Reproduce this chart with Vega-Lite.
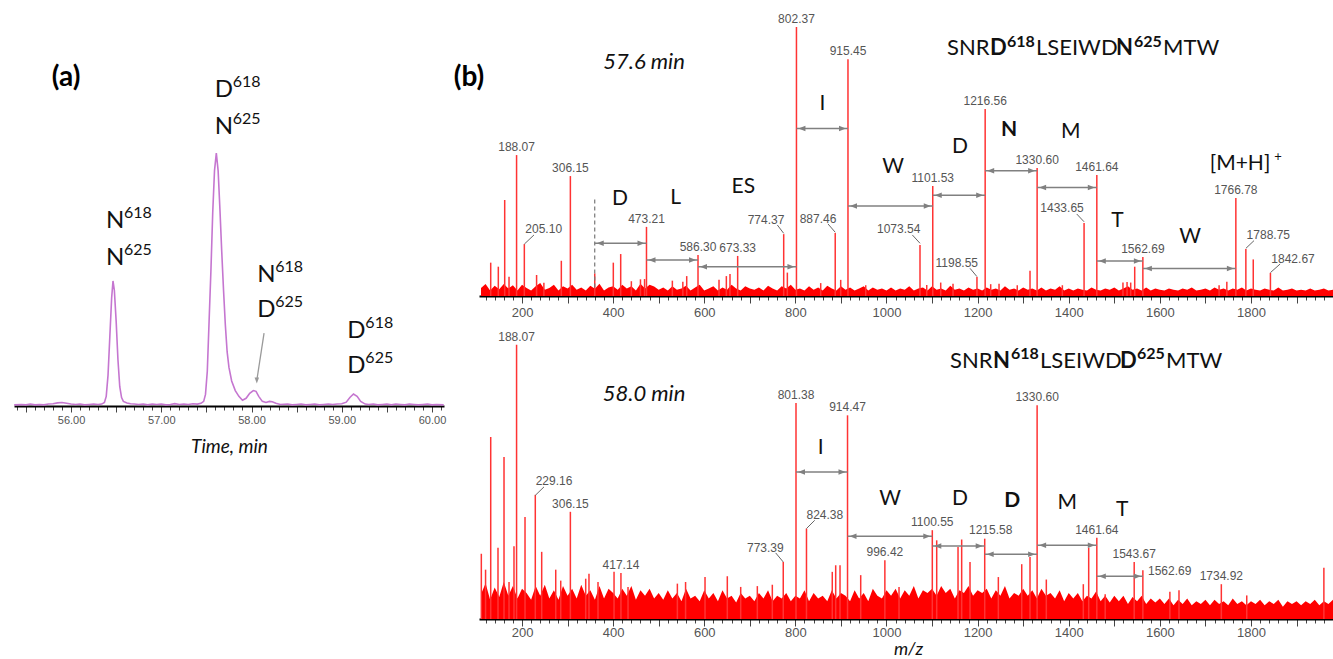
{
"$schema": "https://vega.github.io/schema/vega-lite/v6.json",
"background": "white",
"padding": {"left": 10, "top": 5, "right": 0, "bottom": 0},
"bounds": "flush",
"spacing": 35,
"config": {"view": {"stroke": null}, "font": "Lato", "axis": {"grid": false, "domainColor": "#000", "domainWidth": 2, "tickColor": "#444", "labelColor": "#555", "labelFont": "Liberation Sans"}},
"datasets": {
"chrom": [{"t":55.37,"i":0.3},{"t":55.45,"i":0.4},{"t":55.5,"i":0.3},{"t":55.55,"i":0.5},{"t":55.6,"i":0.3},{"t":55.65,"i":0.4},{"t":55.7,"i":0.3},{"t":55.75,"i":0.5},{"t":55.8,"i":0.6},{"t":55.85,"i":0.8},{"t":55.9,"i":0.9},{"t":55.95,"i":0.7},{"t":56.0,"i":0.5},{"t":56.05,"i":0.4},{"t":56.1,"i":0.5},{"t":56.15,"i":0.3},{"t":56.2,"i":0.4},{"t":56.25,"i":0.5},{"t":56.3,"i":0.4},{"t":56.34,"i":0.5},{"t":56.37,"i":0.9},{"t":56.39,"i":2.5},{"t":56.41,"i":8},{"t":56.43,"i":18},{"t":56.45,"i":28},{"t":56.465,"i":32.4},{"t":56.48,"i":30},{"t":56.5,"i":22},{"t":56.52,"i":12},{"t":56.54,"i":5},{"t":56.56,"i":2.2},{"t":56.58,"i":1.2},{"t":56.62,"i":0.8},{"t":56.66,"i":0.6},{"t":56.7,"i":0.5},{"t":56.75,"i":0.4},{"t":56.8,"i":0.5},{"t":56.85,"i":0.3},{"t":56.9,"i":0.5},{"t":56.95,"i":0.4},{"t":57.0,"i":0.5},{"t":57.05,"i":0.3},{"t":57.1,"i":0.4},{"t":57.15,"i":0.6},{"t":57.2,"i":0.4},{"t":57.25,"i":0.5},{"t":57.3,"i":0.4},{"t":57.35,"i":0.6},{"t":57.4,"i":0.5},{"t":57.44,"i":0.7},{"t":57.47,"i":1.2},{"t":57.49,"i":3},{"t":57.51,"i":9},{"t":57.53,"i":22},{"t":57.55,"i":35},{"t":57.57,"i":50},{"t":57.59,"i":61},{"t":57.61,"i":65.5},{"t":57.63,"i":61},{"t":57.65,"i":51},{"t":57.67,"i":40},{"t":57.69,"i":30},{"t":57.71,"i":21},{"t":57.73,"i":14},{"t":57.75,"i":10},{"t":57.78,"i":6.5},{"t":57.82,"i":4},{"t":57.86,"i":2.5},{"t":57.9,"i":1.5},{"t":57.94,"i":2},{"t":57.98,"i":3.3},{"t":58.02,"i":4},{"t":58.05,"i":3.8},{"t":58.08,"i":2.5},{"t":58.12,"i":1.2},{"t":58.16,"i":0.9},{"t":58.2,"i":1.2},{"t":58.23,"i":1.1},{"t":58.27,"i":0.7},{"t":58.32,"i":0.4},{"t":58.4,"i":0.5},{"t":58.45,"i":0.3},{"t":58.5,"i":0.4},{"t":58.55,"i":0.5},{"t":58.6,"i":0.3},{"t":58.65,"i":0.4},{"t":58.7,"i":0.5},{"t":58.75,"i":0.3},{"t":58.8,"i":0.4},{"t":58.85,"i":0.5},{"t":58.9,"i":0.4},{"t":58.95,"i":0.5},{"t":59.0,"i":0.6},{"t":59.05,"i":1.0},{"t":59.09,"i":2.2},{"t":59.13,"i":3.1},{"t":59.17,"i":2.5},{"t":59.21,"i":1.2},{"t":59.26,"i":0.5},{"t":59.3,"i":0.4},{"t":59.35,"i":0.5},{"t":59.4,"i":0.3},{"t":59.45,"i":0.4},{"t":59.5,"i":0.5},{"t":59.55,"i":0.3},{"t":59.6,"i":0.5},{"t":59.65,"i":0.4},{"t":59.7,"i":0.3},{"t":59.75,"i":0.5},{"t":59.8,"i":0.4},{"t":59.85,"i":0.3},{"t":59.9,"i":0.4},{"t":59.95,"i":0.5},{"t":60.0,"i":0.3},{"t":60.05,"i":0.4},{"t":60.13,"i":0.3}],
"isoLab": [{"t":56.388,"i":46.1,"b":"N","s":"618"},{"t":56.388,"i":36.5,"b":"N","s":"625"},{"t":57.592,"i":80.1,"b":"D","s":"618"},{"t":57.592,"i":70.6,"b":"N","s":"625"},{"t":58.064,"i":32.2,"b":"N","s":"618"},{"t":58.064,"i":23.1,"b":"D","s":"625"},{"t":59.062,"i":17.7,"b":"D","s":"618"},{"t":59.062,"i":8.5,"b":"D","s":"625"}],
"noiseTop": [{"m":110,"i":3},{"m":120,"i":4.5},{"m":130,"i":2},{"m":140,"i":3.8},{"m":150,"i":2.5},{"m":160,"i":4.5},{"m":170,"i":2.8},{"m":180,"i":4},{"m":190,"i":2},{"m":200,"i":4.2},{"m":210,"i":3},{"m":220,"i":2},{"m":230,"i":3.6},{"m":240,"i":4.8},{"m":250,"i":2.3},{"m":260,"i":3},{"m":270,"i":4.2},{"m":280,"i":2},{"m":290,"i":3.6},{"m":300,"i":2.8},{"m":310,"i":4.2},{"m":320,"i":2.3},{"m":330,"i":3.2},{"m":340,"i":2},{"m":350,"i":3.8},{"m":360,"i":2.7},{"m":370,"i":4.6},{"m":380,"i":2},{"m":390,"i":3.2},{"m":400,"i":3.6},{"m":410,"i":2.3},{"m":420,"i":4.2},{"m":430,"i":2.8},{"m":440,"i":3.6},{"m":450,"i":2},{"m":460,"i":4.6},{"m":470,"i":2.8},{"m":480,"i":4.2},{"m":490,"i":3.5},{"m":500,"i":2.3},{"m":510,"i":3.2},{"m":520,"i":2},{"m":530,"i":3.6},{"m":540,"i":2.3},{"m":550,"i":2.8},{"m":560,"i":3.8},{"m":570,"i":2},{"m":580,"i":3.2},{"m":590,"i":4.2},{"m":600,"i":2},{"m":610,"i":2.8},{"m":620,"i":3.6},{"m":630,"i":2},{"m":640,"i":3.2},{"m":650,"i":2.3},{"m":660,"i":4.2},{"m":670,"i":2.8},{"m":680,"i":2},{"m":690,"i":3.6},{"m":700,"i":2.8},{"m":710,"i":2.3},{"m":720,"i":3.2},{"m":730,"i":2},{"m":740,"i":3.8},{"m":750,"i":2.8},{"m":760,"i":2},{"m":770,"i":3.6},{"m":780,"i":2.8},{"m":790,"i":4.2},{"m":800,"i":2.3},{"m":810,"i":2.8},{"m":820,"i":2},{"m":830,"i":3.6},{"m":840,"i":2.3},{"m":850,"i":3.2},{"m":860,"i":2},{"m":870,"i":3.8},{"m":880,"i":2.8},{"m":890,"i":2},{"m":900,"i":3.6},{"m":910,"i":2.3},{"m":920,"i":3.2},{"m":930,"i":2},{"m":940,"i":2.8},{"m":950,"i":3.6},{"m":960,"i":2},{"m":970,"i":3.2},{"m":980,"i":2.3},{"m":990,"i":2.8},{"m":1000,"i":2},{"m":1010,"i":3.2},{"m":1020,"i":2},{"m":1030,"i":2.8},{"m":1040,"i":2.3},{"m":1050,"i":3.6},{"m":1060,"i":2},{"m":1070,"i":2.8},{"m":1080,"i":3.2},{"m":1090,"i":2},{"m":1100,"i":3.6},{"m":1110,"i":2.3},{"m":1120,"i":2.8},{"m":1130,"i":2},{"m":1140,"i":3.8},{"m":1150,"i":2.3},{"m":1160,"i":2.8},{"m":1170,"i":2},{"m":1180,"i":3.2},{"m":1190,"i":2.3},{"m":1200,"i":2.8},{"m":1210,"i":2},{"m":1220,"i":3.2},{"m":1230,"i":2.3},{"m":1240,"i":2.8},{"m":1250,"i":2},{"m":1260,"i":3.6},{"m":1270,"i":2.3},{"m":1280,"i":2.8},{"m":1290,"i":2},{"m":1300,"i":3.2},{"m":1310,"i":2.3},{"m":1320,"i":2.8},{"m":1330,"i":2},{"m":1340,"i":3.2},{"m":1350,"i":2},{"m":1360,"i":2.8},{"m":1370,"i":2.3},{"m":1380,"i":3.6},{"m":1390,"i":2},{"m":1400,"i":2.8},{"m":1410,"i":2},{"m":1420,"i":2.8},{"m":1430,"i":2.3},{"m":1440,"i":2},{"m":1450,"i":3.2},{"m":1460,"i":2.3},{"m":1470,"i":2},{"m":1480,"i":2.8},{"m":1490,"i":2.3},{"m":1500,"i":3.2},{"m":1510,"i":2},{"m":1520,"i":2.8},{"m":1530,"i":3.6},{"m":1540,"i":2.3},{"m":1550,"i":2.8},{"m":1560,"i":2},{"m":1570,"i":3.2},{"m":1580,"i":2},{"m":1590,"i":2.8},{"m":1600,"i":2.3},{"m":1610,"i":2},{"m":1620,"i":2.8},{"m":1630,"i":2.3},{"m":1640,"i":2},{"m":1650,"i":2.8},{"m":1660,"i":2.3},{"m":1670,"i":3.2},{"m":1680,"i":2},{"m":1690,"i":2.3},{"m":1700,"i":2.8},{"m":1710,"i":2},{"m":1720,"i":3.2},{"m":1730,"i":2.3},{"m":1740,"i":2.8},{"m":1750,"i":2},{"m":1760,"i":2.8},{"m":1770,"i":2.3},{"m":1780,"i":3.2},{"m":1790,"i":2},{"m":1800,"i":2.8},{"m":1810,"i":2.3},{"m":1820,"i":2},{"m":1830,"i":2.8},{"m":1840,"i":2.3},{"m":1850,"i":2},{"m":1860,"i":3.2},{"m":1870,"i":2},{"m":1880,"i":2.3},{"m":1890,"i":2.8},{"m":1900,"i":2},{"m":1910,"i":2.3},{"m":1920,"i":2},{"m":1930,"i":2.8},{"m":1940,"i":2},{"m":1950,"i":2.3},{"m":1960,"i":2.8},{"m":1970,"i":2},{"m":1980,"i":2.3},{"m":1988,"i":2}],
"peaksTop": [{"m":131.3,"i":12.4},{"m":148,"i":10.9},{"m":162,"i":35.7},{"m":171.5,"i":7.2},{"m":188.07,"i":52.4,"lab":"188.07"},{"m":205.1,"i":19.3},{"m":232,"i":7.8},{"m":248,"i":4.9},{"m":286.3,"i":13.1},{"m":306.15,"i":44.6,"lab":"306.15"},{"m":359.6,"i":8.4},{"m":400.4,"i":12.4},{"m":416.6,"i":15.6},{"m":440,"i":5.5},{"m":460,"i":6.2},{"m":469,"i":6.3},{"m":473.21,"i":25.7,"lab":"473.21"},{"m":530,"i":5.7},{"m":553,"i":5.3},{"m":561.5,"i":7.4},{"m":586.3,"i":15.2,"lab":"586.30"},{"m":632.4,"i":6},{"m":648.5,"i":7.4},{"m":656.5,"i":8.2},{"m":673.33,"i":14.9,"lab":"673.33"},{"m":774.37,"i":23.0},{"m":782.4,"i":8.7},{"m":802.37,"i":100,"lab":"802.37"},{"m":855.6,"i":4.8},{"m":887.46,"i":23.4},{"m":899.5,"i":6},{"m":915.45,"i":88,"lab":"915.45"},{"m":954.4,"i":4},{"m":1073.54,"i":19},{"m":1088.3,"i":4.1},{"m":1101.53,"i":40.9,"lab":"1101.53"},{"m":1119,"i":5},{"m":1146,"i":4.6},{"m":1198.55,"i":7.1},{"m":1216.56,"i":69.5,"lab":"1216.56"},{"m":1228.7,"i":4.4},{"m":1247,"i":4.6},{"m":1287,"i":4},{"m":1315,"i":9.4},{"m":1330.6,"i":47.6,"lab":"1330.60"},{"m":1386,"i":4},{"m":1433.65,"i":27.1},{"m":1461.64,"i":45,"lab":"1461.64"},{"m":1519,"i":5},{"m":1528,"i":5.2},{"m":1536,"i":5},{"m":1544.8,"i":10.9},{"m":1562.69,"i":14.5,"lab":"1562.69"},{"m":1730,"i":4},{"m":1747,"i":5.3},{"m":1766.78,"i":36.4,"lab":"1766.78"},{"m":1788.75,"i":17.5},{"m":1805,"i":13.6},{"m":1842.67,"i":8.6}],
"labTop": [{"m":247.6,"i":23.4,"lab":"205.10"},{"m":735.6,"i":26.8,"lab":"774.37"},{"m":849.7,"i":27.2,"lab":"887.46"},{"m":1026.8,"i":23.4,"lab":"1073.54"},{"m":1154.3,"i":10.9,"lab":"1198.55"},{"m":1385.3,"i":31.3,"lab":"1433.65"},{"m":1838,"i":21.1,"lab":"1788.75"},{"m":1892.3,"i":12.2,"lab":"1842.67"}],
"leadTop": [{"m":226.3,"i":22.7,"m2":205.1,"i2":19.3},{"m":760.4,"i":26.4,"m2":774.37,"i2":23.3},{"m":871.6,"i":26.8,"m2":887.46,"i2":23.7},{"m":1056.7,"i":22.7,"m2":1073.54,"i2":19.6},{"m":1183.3,"i":10.3,"m2":1198.55,"i2":7.2},{"m":1417.5,"i":30.5,"m2":1433.65,"i2":27.6},{"m":1806.7,"i":20.6,"m2":1788.75,"i2":17.7},{"m":1864,"i":11.9,"m2":1842.67,"i2":8.7}],
"arrTop": [{"m":359.6,"m2":473.21,"i":19.6},{"m":473.21,"m2":586.3,"i":13.4},{"m":586.3,"m2":802.37,"i":10.9},{"m":802.37,"m2":915.45,"i":62.3},{"m":915.45,"m2":1101.53,"i":33.5},{"m":1101.53,"m2":1216.56,"i":37.5},{"m":1216.56,"m2":1330.6,"i":46.6},{"m":1330.6,"m2":1461.64,"i":40.3},{"m":1461.64,"m2":1562.69,"i":13},{"m":1562.69,"m2":1766.78,"i":10.2}],
"dashTop": [{"m":359.6,"i":35.9,"i2":2}],
"aaTop": [{"m":415.1,"i":35.9,"txt":"D"},{"m":537.3,"i":36.5,"txt":"L"},{"m":685.8,"i":40.4,"txt":"ES"},{"m":859.2,"i":71.4,"txt":"I"},{"m":1014.7,"i":48.1,"txt":"W"},{"m":1161.4,"i":55.5,"txt":"D"},{"m":1268.9,"i":61.7,"txt":"N","b":1},{"m":1404.3,"i":61.1,"txt":"M"},{"m":1506.7,"i":28,"txt":"T"},{"m":1666.2,"i":21.8,"txt":"W"},{"m":1776,"i":49.1,"txt":"[M+H]"}],
"titleTop": [{"m":1132.8,"i":89.6,"txt":"SNR","p":"n"},{"m":1227.2,"i":89.6,"txt":"D","p":"b"},{"m":1264.5,"i":92.7,"txt":"618","p":"s"},{"m":1328.2,"i":89.6,"txt":"LSEIWD","p":"n"},{"m":1503.8,"i":89.6,"txt":"N","p":"b"},{"m":1543.3,"i":92.7,"txt":"625","p":"s"},{"m":1607,"i":89.6,"txt":"MTW","p":"n"}],
"noiseBot": [{"m":110,"i":9},{"m":120,"i":13},{"m":130,"i":7},{"m":140,"i":11.5},{"m":150,"i":8},{"m":160,"i":13.5},{"m":170,"i":8.5},{"m":180,"i":12},{"m":190,"i":7.5},{"m":200,"i":11},{"m":210,"i":9.5},{"m":220,"i":7},{"m":230,"i":12},{"m":240,"i":8.5},{"m":250,"i":12.5},{"m":260,"i":7.5},{"m":270,"i":10.5},{"m":280,"i":7},{"m":290,"i":12},{"m":300,"i":8.5},{"m":310,"i":11},{"m":320,"i":7.5},{"m":330,"i":12.5},{"m":340,"i":8.5},{"m":350,"i":10.5},{"m":360,"i":7},{"m":370,"i":12},{"m":380,"i":7.5},{"m":390,"i":11},{"m":400,"i":9.5},{"m":410,"i":7.5},{"m":420,"i":11},{"m":430,"i":8.5},{"m":440,"i":12},{"m":450,"i":7},{"m":460,"i":10.5},{"m":470,"i":8.5},{"m":480,"i":11},{"m":490,"i":7.5},{"m":500,"i":9.5},{"m":510,"i":7},{"m":520,"i":10.5},{"m":530,"i":7.5},{"m":540,"i":9.5},{"m":550,"i":6.5},{"m":560,"i":11},{"m":570,"i":7.5},{"m":580,"i":8.5},{"m":590,"i":6.5},{"m":600,"i":10.5},{"m":610,"i":7.5},{"m":620,"i":9.5},{"m":630,"i":6.5},{"m":640,"i":10.5},{"m":650,"i":7.5},{"m":660,"i":8.5},{"m":670,"i":6},{"m":680,"i":9.5},{"m":690,"i":7.5},{"m":700,"i":8.5},{"m":710,"i":6.5},{"m":720,"i":9.5},{"m":730,"i":7.5},{"m":740,"i":10.5},{"m":750,"i":6.5},{"m":760,"i":8.5},{"m":770,"i":7.5},{"m":780,"i":9.5},{"m":790,"i":6.5},{"m":800,"i":8.5},{"m":810,"i":7.5},{"m":820,"i":10.5},{"m":830,"i":6.5},{"m":840,"i":9.5},{"m":850,"i":7.5},{"m":860,"i":8.5},{"m":870,"i":6.5},{"m":880,"i":10.5},{"m":890,"i":7.5},{"m":900,"i":9.5},{"m":910,"i":8.5},{"m":920,"i":6.5},{"m":930,"i":10.5},{"m":940,"i":7.5},{"m":950,"i":9.5},{"m":960,"i":6.5},{"m":970,"i":11},{"m":980,"i":8.5},{"m":990,"i":7.5},{"m":1000,"i":10.5},{"m":1010,"i":8.5},{"m":1020,"i":11},{"m":1030,"i":7.5},{"m":1040,"i":10.5},{"m":1050,"i":8.5},{"m":1060,"i":12},{"m":1070,"i":7.5},{"m":1080,"i":10.5},{"m":1090,"i":9.5},{"m":1100,"i":11},{"m":1110,"i":8.5},{"m":1120,"i":12},{"m":1130,"i":9.5},{"m":1140,"i":11},{"m":1150,"i":7.5},{"m":1160,"i":10.5},{"m":1170,"i":9.5},{"m":1180,"i":12},{"m":1190,"i":8.5},{"m":1200,"i":10.5},{"m":1210,"i":9.5},{"m":1220,"i":11},{"m":1230,"i":7.5},{"m":1240,"i":10.5},{"m":1250,"i":8.5},{"m":1260,"i":12},{"m":1270,"i":7.5},{"m":1280,"i":9.5},{"m":1290,"i":8.5},{"m":1300,"i":11},{"m":1310,"i":8.5},{"m":1320,"i":10.5},{"m":1330,"i":7.5},{"m":1340,"i":11},{"m":1350,"i":8.5},{"m":1360,"i":9.5},{"m":1370,"i":7.5},{"m":1380,"i":10.5},{"m":1390,"i":6.5},{"m":1400,"i":9.5},{"m":1410,"i":7.5},{"m":1420,"i":9.5},{"m":1430,"i":6.5},{"m":1440,"i":8.5},{"m":1450,"i":7.5},{"m":1460,"i":10},{"m":1470,"i":6.5},{"m":1480,"i":8.5},{"m":1490,"i":6},{"m":1500,"i":8.5},{"m":1510,"i":6.5},{"m":1520,"i":8.5},{"m":1530,"i":5.5},{"m":1540,"i":8},{"m":1550,"i":6.5},{"m":1560,"i":8.5},{"m":1570,"i":5.5},{"m":1580,"i":7.5},{"m":1590,"i":6},{"m":1600,"i":7.5},{"m":1610,"i":5.5},{"m":1620,"i":7.5},{"m":1630,"i":5},{"m":1640,"i":7},{"m":1650,"i":5.5},{"m":1660,"i":7.5},{"m":1670,"i":5},{"m":1680,"i":6.5},{"m":1690,"i":5.5},{"m":1700,"i":7},{"m":1710,"i":5},{"m":1720,"i":7},{"m":1730,"i":5.5},{"m":1740,"i":6.5},{"m":1750,"i":5},{"m":1760,"i":7.5},{"m":1770,"i":5.5},{"m":1780,"i":6.5},{"m":1790,"i":5},{"m":1800,"i":6.5},{"m":1810,"i":5.5},{"m":1820,"i":7},{"m":1830,"i":5},{"m":1840,"i":6.5},{"m":1850,"i":5.5},{"m":1860,"i":7},{"m":1870,"i":4.5},{"m":1880,"i":6.5},{"m":1890,"i":5.5},{"m":1900,"i":6.5},{"m":1910,"i":5},{"m":1920,"i":6.5},{"m":1930,"i":5.5},{"m":1940,"i":7},{"m":1950,"i":5},{"m":1960,"i":6.5},{"m":1970,"i":5.5},{"m":1980,"i":7},{"m":1988,"i":5.5}],
"peaksBot": [{"m":110.7,"i":23.8},{"m":120,"i":18},{"m":131.3,"i":66.4},{"m":147.3,"i":26},{"m":160.5,"i":59.1},{"m":171.5,"i":13.5},{"m":182.4,"i":26.5},{"m":188.07,"i":100,"lab":"188.07"},{"m":206.6,"i":37.2},{"m":229.16,"i":45.3},{"m":243.2,"i":24.5},{"m":274,"i":18},{"m":285,"i":14},{"m":306.15,"i":39.1,"lab":"306.15"},{"m":339.8,"i":14.7},{"m":347,"i":16.5},{"m":366.8,"i":13.5},{"m":402,"i":17.2},{"m":417.14,"i":16.8,"lab":"417.14"},{"m":432.7,"i":11.7},{"m":541,"i":12.9},{"m":559,"i":13.5},{"m":601.7,"i":15.3},{"m":650.6,"i":15.6},{"m":680,"i":11.7},{"m":716.5,"i":12},{"m":749.4,"i":12.5},{"m":773.39,"i":20.8},{"m":801.38,"i":78.8,"lab":"801.38"},{"m":824.38,"i":33},{"m":881,"i":17.2},{"m":888.5,"i":19.6},{"m":898,"i":19.6},{"m":914.47,"i":74.3,"lab":"914.47"},{"m":943.4,"i":16},{"m":996.42,"i":21.4,"lab":"996.42"},{"m":1027.5,"i":11.7},{"m":1100.55,"i":32.4,"lab":"1100.55"},{"m":1110.2,"i":28.7},{"m":1157,"i":26.3},{"m":1165,"i":29},{"m":1183.3,"i":20.8},{"m":1215.58,"i":29.3},{"m":1245.5,"i":15.3},{"m":1296.8,"i":20},{"m":1315,"i":22.6},{"m":1330.6,"i":78,"lab":"1330.60"},{"m":1350.8,"i":14.4},{"m":1432,"i":12.7},{"m":1443.8,"i":26},{"m":1461.64,"i":29.6,"lab":"1461.64"},{"m":1480,"i":9},{"m":1543.67,"i":20.8,"lab":"1543.67"},{"m":1562.69,"i":17.8},{"m":1622,"i":9.9},{"m":1642,"i":10.5},{"m":1734.92,"i":12.7,"lab":"1734.92"},{"m":1790.7,"i":8.6},{"m":1960,"i":18.7}],
"labBot": [{"m":270.2,"i":48.8,"lab":"229.16"},{"m":734,"i":24.5,"lab":"773.39"},{"m":864.7,"i":36.6,"lab":"824.38"},{"m":1228.7,"i":31.1,"lab":"1215.58"},{"m":1621.5,"i":15.9,"lab":"1562.69"}],
"leadBot": [{"m":248.3,"i":48.2,"m2":229.16,"i2":45.1},{"m":756.8,"i":24.1,"m2":773.39,"i2":20.8},{"m":842.4,"i":36,"m2":824.38,"i2":33}],
"arrBot": [{"m":801.38,"m2":914.47,"i":53.6},{"m":914.47,"m2":1100.55,"i":30.2},{"m":1100.55,"m2":1215.58,"i":26.6},{"m":1215.58,"m2":1330.6,"i":23.6},{"m":1330.6,"m2":1461.64,"i":26.9},{"m":1461.64,"m2":1562.69,"i":15.6}],
"aaBot": [{"m":855.6,"i":62.5,"txt":"I"},{"m":1007.7,"i":43.9,"txt":"W"},{"m":1161.4,"i":43.9,"txt":"D"},{"m":1276.2,"i":43.1,"txt":"D","b":1},{"m":1396.9,"i":42.3,"txt":"M"},{"m":1517.6,"i":39.9,"txt":"T"}],
"titleBot": [{"m":1139.4,"i":91.7,"txt":"SNR","p":"n"},{"m":1233.8,"i":91.7,"txt":"N","p":"b"},{"m":1273.3,"i":95,"txt":"618","p":"s"},{"m":1337,"i":91.7,"txt":"LSEIWD","p":"n"},{"m":1512.6,"i":91.7,"txt":"D","p":"b"},{"m":1549.9,"i":95,"txt":"625","p":"s"},{"m":1613.5,"i":91.7,"txt":"MTW","p":"n"}]
},
"hconcat": [
{
"width": 430, "height": 401,
"encoding": {
"x": {"field": "t", "type": "quantitative", "title": "Time, min", "scale": {"domain": [55.368, 60.133], "nice": false, "zero": false},
 "axis": {"values": [55.4,55.5,55.6,55.7,55.8,55.9,56,56.1,56.2,56.3,56.4,56.5,56.6,56.7,56.8,56.9,57,57.1,57.2,57.3,57.4,57.5,57.6,57.7,57.8,57.9,58,58.1,58.2,58.3,58.4,58.5,58.6,58.7,58.8,58.9,59,59.1,59.2,59.3,59.4,59.5,59.6,59.7,59.8,59.9,60,60.1],
  "format": ".2f", "labelExpr": "abs(datum.value-round(datum.value))<0.001 ? datum.label : ''",
  "tickSize": {"condition": {"test": "abs(datum.value*2-round(datum.value*2))<0.001", "value": 6}, "value": 4},
  "labelFontSize": 11, "labelPadding": 2, "labelOverlap": false, "labelFlush": false,
  "titleFont": "Lato", "titleFontSize": 19, "titleFontStyle": "italic", "titleFontWeight": "normal", "titleColor": "#111", "titlePadding": 12}},
"y": {"field": "i", "type": "quantitative", "scale": {"domain": [0, 103.9], "nice": false}, "axis": null}
},
"layer": [
{"data": {"name": "chrom"}, "mark": {"type": "line", "color": "#c576d0", "strokeWidth": 1.6}},
{"data": {"name": "isoLab"}, "mark": {"type": "text", "font": "Lato", "fontSize": 24, "align": "left", "baseline": "alphabetic", "color": "#111"}, "encoding": {"text": {"field": "b"}}},
{"data": {"name": "isoLab"}, "mark": {"type": "text", "font": "Lato", "fontSize": 16, "align": "left", "baseline": "alphabetic", "dx": 18, "dy": -10, "color": "#111"}, "encoding": {"text": {"field": "s"}}},
{"data": {"values": [{"t": 58.139, "i": 18.9, "t2": 58.061, "i2": 7}]}, "mark": {"type": "rule", "color": "#999", "strokeWidth": 1.3}, "encoding": {"x2": {"field": "t2"}, "y2": {"field": "i2"}}},
{"data": {"values": [{"t": 58.059, "i": 5.8}]}, "mark": {"type": "point", "shape": "M0,0 L-0.9,-2.4 L0.9,-2.4 Z", "filled": true, "size": 25, "color": "#999", "opacity": 1}},
{"data": {"values": [{"t": 55.945, "i": 85, "txt": "(a)"}]}, "mark": {"type": "text", "font": "Lato", "fontSize": 28, "fontWeight": "bold", "align": "center", "baseline": "middle", "color": "#000"}, "encoding": {"text": {"field": "txt"}}}
]
},
{
"bounds": "flush",
"spacing": 39,
"vconcat": [
{
"width": 858, "height": 291,
"encoding": {
"x": {"field": "m", "type": "quantitative", "title": null, "scale": {"domain": [105.6, 1988.8], "nice": false, "zero": false},
 "axis": {"values": [120,140,160,180,200,220,240,260,280,300,320,340,360,380,400,420,440,460,480,500,520,540,560,580,600,620,640,660,680,700,720,740,760,780,800,820,840,860,880,900,920,940,960,980,1000,1020,1040,1060,1080,1100,1120,1140,1160,1180,1200,1220,1240,1260,1280,1300,1320,1340,1360,1380,1400,1420,1440,1460,1480,1500,1520,1540,1560,1580,1600,1620,1640,1660,1680,1700,1720,1740,1760,1780,1800,1820,1840,1860,1880,1900,1920,1940,1960,1980],
  "format": "d", "labelExpr": "datum.value % 200 === 0 ? datum.label : ''",
  "tickSize": {"condition": {"test": "datum.value % 100 === 0", "value": 7}, "value": 4},
  "labelFontSize": 13, "labelPadding": 3, "labelOverlap": false, "labelFlush": false}},
"y": {"field": "i", "type": "quantitative", "scale": {"domain": [0, 108.2], "nice": false}, "axis": null}
},
"layer": [
{"data": {"name": "noiseTop"}, "mark": {"type": "area", "color": "#ff0000", "opacity": 1}},
{"data": {"name": "peaksTop"}, "mark": {"type": "rule", "color": "#ff3333", "strokeWidth": 1.5}, "encoding": {"y2": {"datum": 0}}},
{"data": {"name": "peaksTop"}, "transform": [{"filter": "datum.lab"}], "mark": {"type": "text", "font": "Liberation Sans", "fontSize": 12, "color": "#555", "align": "center", "baseline": "alphabetic", "dy": -4}, "encoding": {"text": {"field": "lab"}}},
{"data": {"name": "labTop"}, "mark": {"type": "text", "font": "Liberation Sans", "fontSize": 12, "color": "#555", "align": "center", "baseline": "alphabetic"}, "encoding": {"text": {"field": "lab"}}},
{"data": {"name": "leadTop"}, "mark": {"type": "rule", "color": "#666", "strokeWidth": 1}, "encoding": {"x2": {"field": "m2"}, "y2": {"field": "i2"}}},
{"data": {"name": "dashTop"}, "mark": {"type": "rule", "color": "#777", "strokeWidth": 1.2, "strokeDash": [4, 3]}, "encoding": {"y2": {"field": "i2"}}},
{"data": {"name": "arrTop"}, "mark": {"type": "rule", "color": "#808080", "strokeWidth": 1.5}, "encoding": {"x2": {"field": "m2"}}},
{"data": {"name": "arrTop"}, "mark": {"type": "point", "shape": "M0.8,0 L3.6,-1.1 L3.6,1.1 Z", "filled": true, "size": 25, "color": "#808080", "opacity": 1}},
{"data": {"name": "arrTop"}, "mark": {"type": "point", "shape": "M-0.8,0 L-3.6,-1.1 L-3.6,1.1 Z", "filled": true, "size": 25, "color": "#808080", "opacity": 1}, "encoding": {"x": {"field": "m2", "type": "quantitative", "title": null}}},
{"data": {"name": "aaTop"}, "transform": [{"filter": "!datum.b"}], "mark": {"type": "text", "font": "Lato", "fontSize": 21, "align": "center", "baseline": "middle", "color": "#111"}, "encoding": {"text": {"field": "txt"}}},
{"data": {"name": "aaTop"}, "transform": [{"filter": "datum.b"}], "mark": {"type": "text", "font": "Lato", "fontSize": 21, "fontWeight": "bold", "align": "center", "baseline": "middle", "color": "#111"}, "encoding": {"text": {"field": "txt"}}},
{"data": {"values": [{"m": 1859.4, "i": 51.5, "txt": "+"}]}, "mark": {"type": "text", "font": "Lato", "fontSize": 13, "align": "center", "baseline": "middle", "color": "#111"}, "encoding": {"text": {"field": "txt"}}},
{"data": {"name": "titleTop"}, "transform": [{"filter": "datum.p === 'n'"}], "mark": {"type": "text", "font": "Lato", "fontSize": 22, "align": "left", "baseline": "alphabetic", "color": "#111"}, "encoding": {"text": {"field": "txt"}}},
{"data": {"name": "titleTop"}, "transform": [{"filter": "datum.p === 'b'"}], "mark": {"type": "text", "font": "Lato", "fontSize": 22, "fontWeight": "bold", "align": "left", "baseline": "alphabetic", "color": "#111"}, "encoding": {"text": {"field": "txt"}}},
{"data": {"name": "titleTop"}, "transform": [{"filter": "datum.p === 's'"}], "mark": {"type": "text", "font": "Lato", "fontSize": 16, "fontWeight": "bold", "align": "left", "baseline": "alphabetic", "color": "#111"}, "encoding": {"text": {"field": "txt"}}},
{"data": {"values": [{"m": 467.8, "i": 87.1, "txt": "57.6 min"}]}, "mark": {"type": "text", "font": "Lato", "fontSize": 22, "fontStyle": "italic", "align": "center", "baseline": "middle", "color": "#111"}, "encoding": {"text": {"field": "txt"}}},
{"data": {"values": [{"m": 83.7, "i": 81, "txt": "(b)"}]}, "mark": {"type": "text", "font": "Lato", "fontSize": 28, "fontWeight": "bold", "align": "center", "baseline": "middle", "color": "#000"}, "encoding": {"text": {"field": "txt"}}}
]
},
{
"width": 858, "height": 284,
"encoding": {
"x": {"field": "m", "type": "quantitative", "title": "m/z", "scale": {"domain": [105.6, 1988.8], "nice": false, "zero": false},
 "axis": {"values": [120,140,160,180,200,220,240,260,280,300,320,340,360,380,400,420,440,460,480,500,520,540,560,580,600,620,640,660,680,700,720,740,760,780,800,820,840,860,880,900,920,940,960,980,1000,1020,1040,1060,1080,1100,1120,1140,1160,1180,1200,1220,1240,1260,1280,1300,1320,1340,1360,1380,1400,1420,1440,1460,1480,1500,1520,1540,1560,1580,1600,1620,1640,1660,1680,1700,1720,1740,1760,1780,1800,1820,1840,1860,1880,1900,1920,1940,1960,1980],
  "format": "d", "labelExpr": "datum.value % 200 === 0 ? datum.label : ''",
  "tickSize": {"condition": {"test": "datum.value % 100 === 0", "value": 7}, "value": 4},
  "labelFontSize": 13, "labelPadding": 0, "labelOverlap": false, "labelFlush": false,
  "titleFont": "Lato", "titleFontSize": 18, "titleFontStyle": "italic", "titleFontWeight": "normal", "titleColor": "#111", "titlePadding": 1}},
"y": {"field": "i", "type": "quantitative", "scale": {"domain": [0, 103.6], "nice": false}, "axis": null}
},
"layer": [
{"data": {"name": "noiseBot"}, "mark": {"type": "area", "color": "#ff0000", "opacity": 1}},
{"data": {"name": "peaksBot"}, "mark": {"type": "rule", "color": "#ff3333", "strokeWidth": 1.5}, "encoding": {"y2": {"datum": 0}}},
{"data": {"name": "peaksBot"}, "transform": [{"filter": "datum.lab"}], "mark": {"type": "text", "font": "Liberation Sans", "fontSize": 12, "color": "#555", "align": "center", "baseline": "alphabetic", "dy": -4}, "encoding": {"text": {"field": "lab"}}},
{"data": {"name": "labBot"}, "mark": {"type": "text", "font": "Liberation Sans", "fontSize": 12, "color": "#555", "align": "center", "baseline": "alphabetic"}, "encoding": {"text": {"field": "lab"}}},
{"data": {"name": "leadBot"}, "mark": {"type": "rule", "color": "#666", "strokeWidth": 1}, "encoding": {"x2": {"field": "m2"}, "y2": {"field": "i2"}}},
{"data": {"name": "arrBot"}, "mark": {"type": "rule", "color": "#808080", "strokeWidth": 1.5}, "encoding": {"x2": {"field": "m2"}}},
{"data": {"name": "arrBot"}, "mark": {"type": "point", "shape": "M0.8,0 L3.6,-1.1 L3.6,1.1 Z", "filled": true, "size": 25, "color": "#808080", "opacity": 1}},
{"data": {"name": "arrBot"}, "mark": {"type": "point", "shape": "M-0.8,0 L-3.6,-1.1 L-3.6,1.1 Z", "filled": true, "size": 25, "color": "#808080", "opacity": 1}, "encoding": {"x": {"field": "m2", "type": "quantitative", "title": "m/z"}}},
{"data": {"name": "aaBot"}, "transform": [{"filter": "!datum.b"}], "mark": {"type": "text", "font": "Lato", "fontSize": 21, "align": "center", "baseline": "middle", "color": "#111"}, "encoding": {"text": {"field": "txt"}}},
{"data": {"name": "aaBot"}, "transform": [{"filter": "datum.b"}], "mark": {"type": "text", "font": "Lato", "fontSize": 21, "fontWeight": "bold", "align": "center", "baseline": "middle", "color": "#111"}, "encoding": {"text": {"field": "txt"}}},
{"data": {"name": "titleBot"}, "transform": [{"filter": "datum.p === 'n'"}], "mark": {"type": "text", "font": "Lato", "fontSize": 22, "align": "left", "baseline": "alphabetic", "color": "#111"}, "encoding": {"text": {"field": "txt"}}},
{"data": {"name": "titleBot"}, "transform": [{"filter": "datum.p === 'b'"}], "mark": {"type": "text", "font": "Lato", "fontSize": 22, "fontWeight": "bold", "align": "left", "baseline": "alphabetic", "color": "#111"}, "encoding": {"text": {"field": "txt"}}},
{"data": {"name": "titleBot"}, "transform": [{"filter": "datum.p === 's'"}], "mark": {"type": "text", "font": "Lato", "fontSize": 16, "fontWeight": "bold", "align": "left", "baseline": "alphabetic", "color": "#111"}, "encoding": {"text": {"field": "txt"}}},
{"data": {"values": [{"m": 467.8, "i": 82.2, "txt": "58.0 min"}]}, "mark": {"type": "text", "font": "Lato", "fontSize": 22, "fontStyle": "italic", "align": "center", "baseline": "middle", "color": "#111"}, "encoding": {"text": {"field": "txt"}}}
]
}
]
}
]
}
